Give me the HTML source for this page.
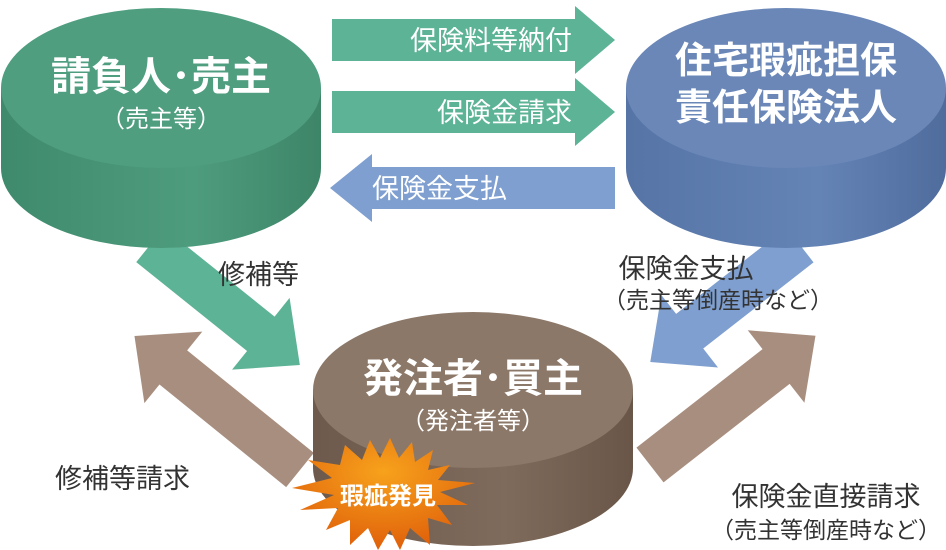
<!DOCTYPE html>
<html><head><meta charset="utf-8"><style>
body{margin:0;background:#fff}
svg{display:block}
text{font-family:"Liberation Sans","Noto Sans CJK JP",sans-serif}
</style></head><body>
<svg width="946" height="550" viewBox="0 0 946 550" xmlns="http://www.w3.org/2000/svg">
<defs>
<linearGradient id="gs" x1="0" x2="1"><stop offset="0" stop-color="#3f8a6c"/><stop offset=".6" stop-color="#4e9c7e"/><stop offset="1" stop-color="#3e8568"/></linearGradient>
<linearGradient id="bs" x1="0" x2="1"><stop offset="0" stop-color="#5674a6"/><stop offset=".6" stop-color="#6584b6"/><stop offset="1" stop-color="#4f6c9d"/></linearGradient>
<linearGradient id="rs" x1="0" x2="1"><stop offset="0" stop-color="#6e5a4c"/><stop offset=".6" stop-color="#7f6b5c"/><stop offset="1" stop-color="#6a5648"/></linearGradient>
<radialGradient id="st" cx=".5" cy=".3" r=".7"><stop offset="0" stop-color="#f7a21c"/><stop offset="1" stop-color="#e0600a"/></radialGradient>
</defs>
<g fill="#5db396">
<polygon transform="translate(150,245) rotate(38.7)" points="0,-22 142,-22 142,-46 192,0 142,46 142,22 0,22"/>
</g>
<g fill="#7e9fd0">
<polygon transform="translate(800,245) rotate(142)" points="0,-22 140,-22 140,-46 190,0 140,46 140,22 0,22"/>
</g>
<g fill="#a88e7f">
<polygon transform="translate(300,470) rotate(219)" points="0,-22 163,-22 163,-46 213,0 163,46 163,22 0,22"/>
<polygon transform="translate(650,465) rotate(-38)" points="0,-22 160,-22 160,-46 210,0 160,46 160,22 0,22"/>
</g>
<polygon fill="#5db396" points="332,19 575,19 575,6 615,40 575,74 575,61 332,61"/>
<polygon fill="#5db396" points="332,91 575,91 575,78 615,112 575,146 575,133 332,133"/>
<polygon fill="#7e9fd0" points="615,167 372,167 372,154 330,188 372,222 372,209 615,209"/>
<text x="572" y="50" font-size="27" fill="#fff" text-anchor="end">保険料等納付</text>
<text x="572" y="122" font-size="27" fill="#fff" text-anchor="end">保険金請求</text>
<text x="372" y="198" font-size="27" fill="#fff">保険金支払</text>
<path d="M1,88 L1,168 A160,80 0 0 0 321,168 L321,88 Z" fill="url(#gs)"/>
<ellipse cx="161" cy="88" rx="160" ry="80" fill="#4f9e80"/>
<text x="161" y="90" font-size="40" font-weight="bold" fill="#fff" text-anchor="middle">請負人･売主</text>
<text x="161" y="127" font-size="24" fill="#fff" text-anchor="middle">（売主等）</text>
<path d="M626,88 L626,168 A160,80 0 0 0 946,168 L946,88 Z" fill="url(#bs)"/>
<ellipse cx="786" cy="88" rx="160" ry="80" fill="#6a87b8"/>
<text x="786" y="73" font-size="37" font-weight="bold" fill="#fff" text-anchor="middle">住宅瑕疵担保</text>
<text x="786" y="120" font-size="37" font-weight="bold" fill="#fff" text-anchor="middle">責任保険法人</text>
<path d="M313,390 L313,468 A160,78 0 0 0 633,468 L633,390 Z" fill="url(#rs)"/>
<ellipse cx="473" cy="390" rx="160" ry="78" fill="#8c7868"/>
<text x="473" y="392" font-size="40" font-weight="bold" fill="#fff" text-anchor="middle">発注者･買主</text>
<text x="473" y="429" font-size="24" fill="#fff" text-anchor="middle">（発注者等）</text>
<polygon fill="url(#st)" points="390,438 399,458 412,442 415,462 433,450 428,470 450,465 438,480 475,483 440,492 468,505 437,505 452,525 428,518 430,545 410,528 400,550 390,530 378,550 368,528 350,545 350,520 326,530 338,508 300,510 334,495 292,488 332,478 308,460 340,465 345,445 362,460 370,440 380,458"/>
<text x="388" y="504" font-size="24" font-weight="bold" fill="#fff" text-anchor="middle">瑕疵発見</text>
<text x="218" y="284" font-size="27" fill="#333">修補等</text>
<text x="686" y="278" font-size="27" fill="#333" text-anchor="middle">保険金支払</text>
<text x="718" y="308" font-size="23" fill="#333" text-anchor="middle">（売主等倒産時など）</text>
<text x="55" y="488" font-size="27" fill="#333">修補等請求</text>
<text x="826" y="506" font-size="27" fill="#333" text-anchor="middle">保険金直接請求</text>
<text x="826" y="538" font-size="23" fill="#333" text-anchor="middle">（売主等倒産時など）</text>
</svg>
</body></html>
